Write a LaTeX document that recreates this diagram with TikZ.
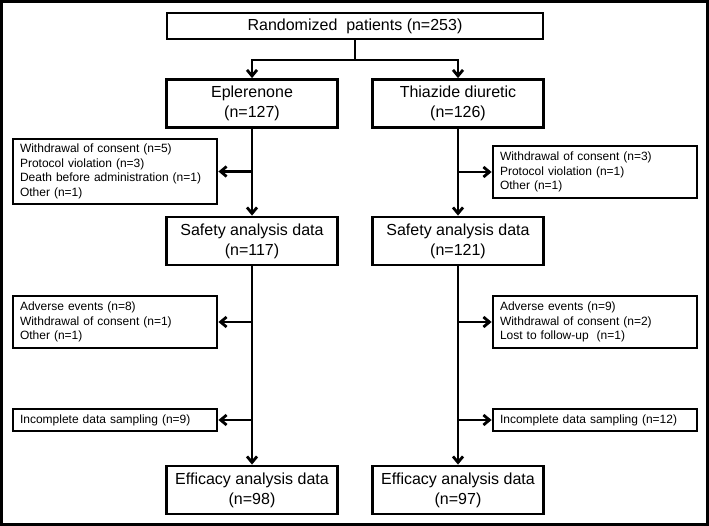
\documentclass[tikz,border=0pt]{standalone}
\usepackage{fontspec}
\setmainfont{Liberation Sans}
\usetikzlibrary{arrows.meta}

\begin{document}
\begin{tikzpicture}[x=1pt,y=-1pt,
    mainbox/.style={draw,line width=2.8pt,align=center,inner sep=0pt,minimum width=171pt,minimum height=48pt,font=\fontsize{16}{20}\selectfont},
    sidebox/.style={draw,line width=2.8pt,align=left,inner xsep=7pt,inner ysep=0pt,text width=190pt,minimum height=#1,font=\fontsize{12}{14.5}\selectfont},
    flow/.style={line width=2.8pt,-{Straight Barb[length=6pt,width=10pt]}}]

\useasboundingbox (0,0) rectangle (709,526);
\draw[line width=3pt] (1.5,1.5) rectangle (707.5,524.5);

\def\colE{252}
\def\colT{458}
\def\colO{115}
\def\colP{595}

% main column
\node[mainbox,minimum width=376pt,minimum height=26pt] (rand) at (355,26) {Randomized\ \ patients (n=253)};
\node[mainbox] (eple) at (\colE,103.5) {Eplerenone\\(n=127)};
\node[mainbox] (thia) at (\colT,103.5) {Thiazide diuretic\\(n=126)};
\node[mainbox] (safeE) at (\colE,241) {Safety analysis data\\(n=117)};
\node[mainbox] (safeT) at (\colT,241) {Safety analysis data\\(n=121)};
\node[mainbox] (effE) at (\colE,490) {Efficacy analysis data\\(n=98)};
\node[mainbox] (effT) at (\colT,490) {Efficacy analysis data\\(n=97)};

% excluded patients
\node[sidebox=65pt] (outE1) at (\colO,171.5) {Withdrawal of consent (n=5)\\Protocol violation (n=3)\\Death before administration (n=1)\\Other (n=1)};
\node[sidebox=52pt] (outT1) at (\colP,172) {Withdrawal of consent (n=3)\\Protocol violation (n=1)\\Other (n=1)};
\node[sidebox=52pt] (outE2) at (\colO,322) {Adverse events (n=8)\\Withdrawal of consent (n=1)\\Other (n=1)};
\node[sidebox=52pt] (outT2) at (\colP,322) {Adverse events (n=9)\\Withdrawal of consent (n=2)\\Lost to follow-up\ \ (n=1)};
\node[sidebox=22pt] (outE3) at (\colO,420) {Incomplete data sampling (n=9)};
\node[sidebox=22pt] (outT3) at (\colP,420) {Incomplete data sampling (n=12)};

% arrows
\coordinate (split) at (355,60);
\draw[line width=2.8pt] (rand) -- (split);
\draw[flow] (split) -| (eple);
\draw[flow] (split) -| (thia);

\foreach \a/\b in {eple/safeE,safeE/effE,thia/safeT,safeT/effT}
{
    \draw[flow] (\a) -- (\b);
}

\foreach \c/\o in {eple/outE1,eple/outE2,eple/outE3,thia/outT1,thia/outT2,thia/outT3}
{
    \draw[flow] (\c |- \o) -- (\o);
}

\end{tikzpicture}
\end{document}
